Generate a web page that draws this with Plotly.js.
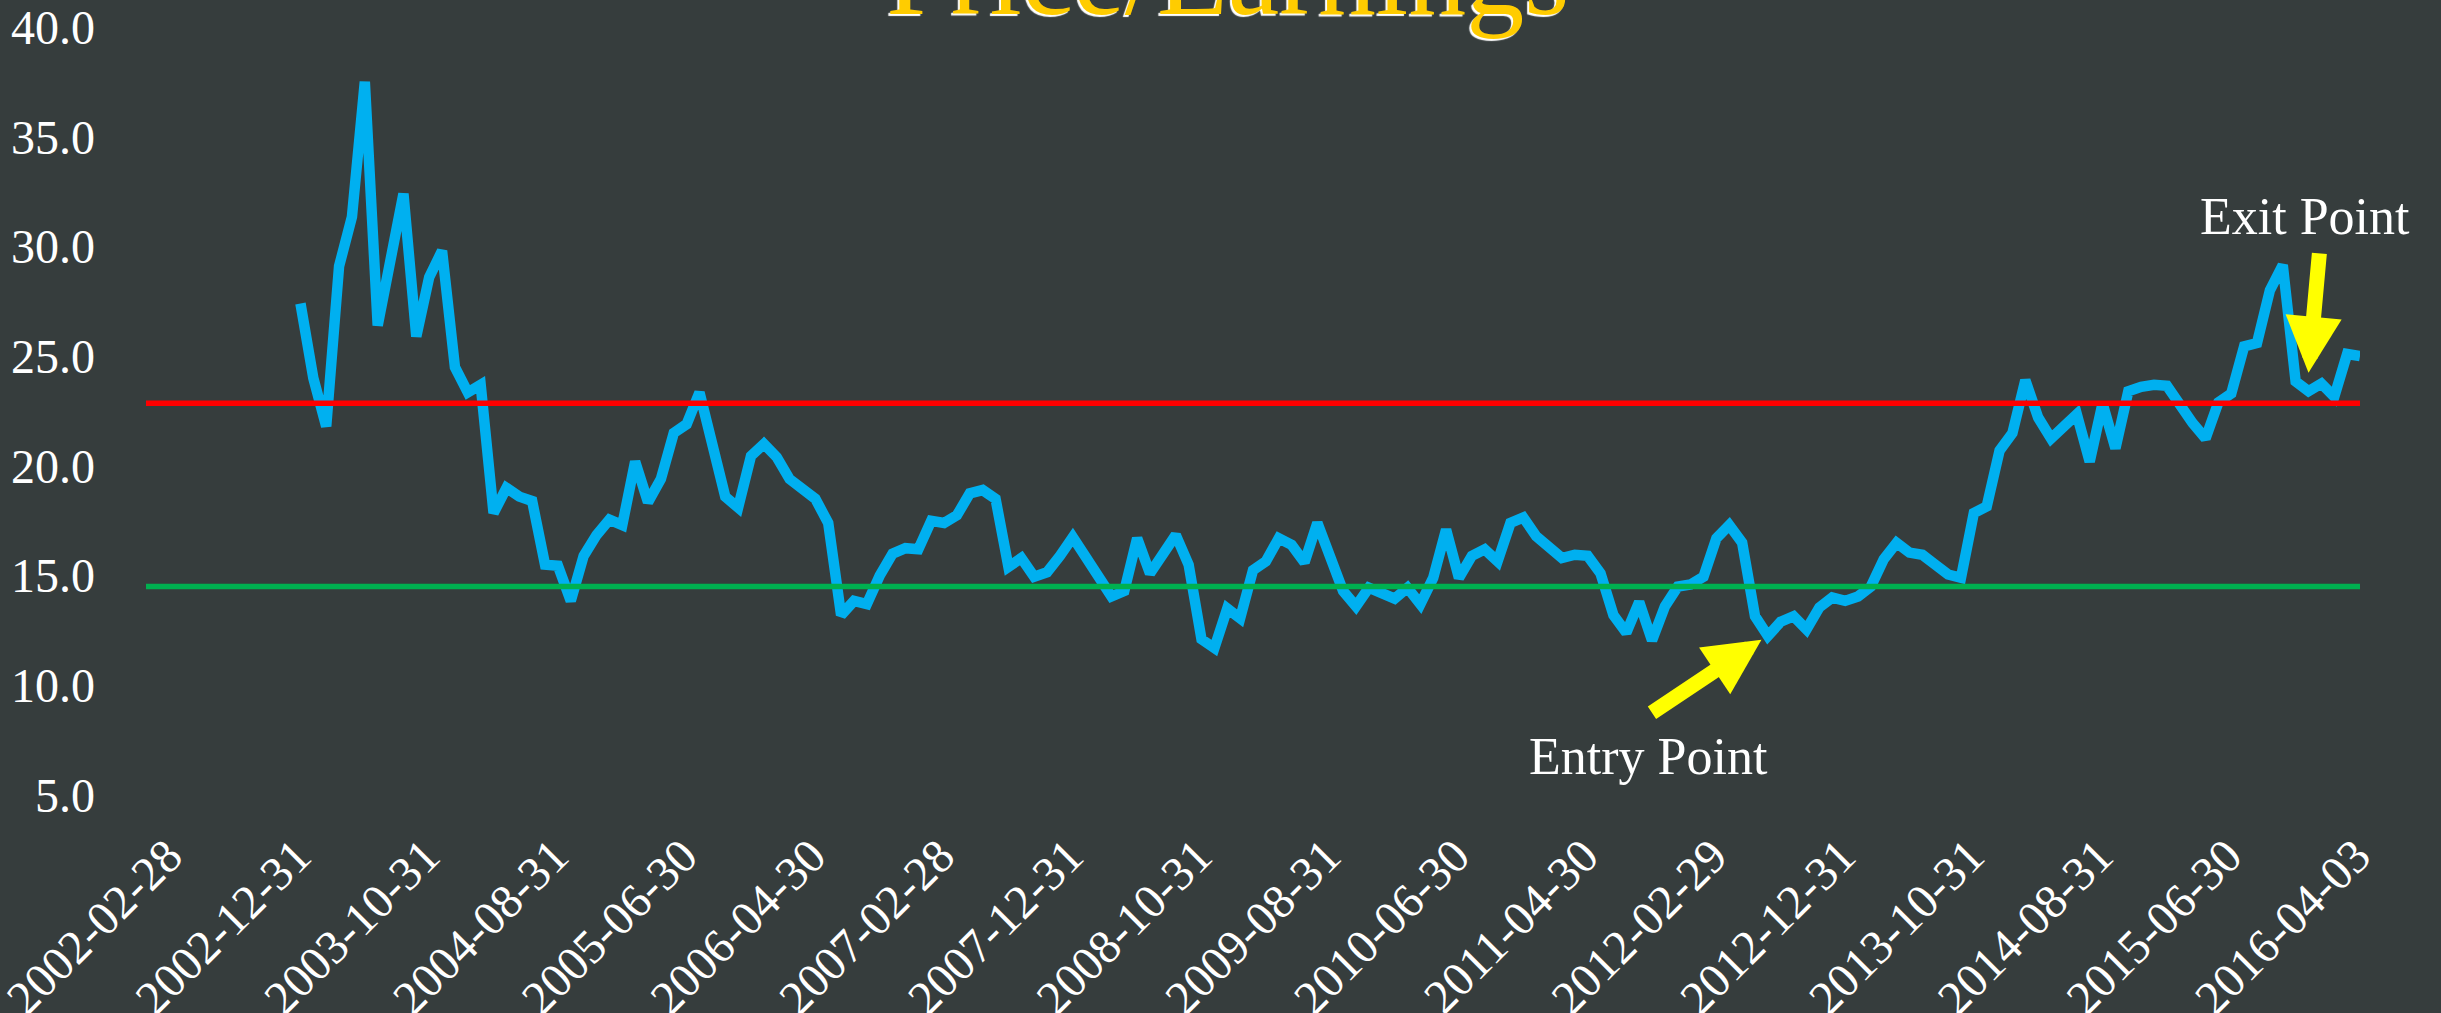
<!DOCTYPE html>
<html>
<head>
<meta charset="utf-8">
<script src="https://cdn.plot.ly/plotly-3.0.1.min.js"></script>
<style>
  html, body { margin: 0; padding: 0; background: #363D3D; }
  #chart { width: 2441px; height: 1013px; }
</style>
</head>
<body>
<div id="chart"></div>
<script>
// ---- categories: month-end dates 2002-02 .. 2016-03, then the latest readings ----
function monthEnds(startYear, startMonth, endYear, endMonth) {
  const out = [];
  let y = startYear, m = startMonth;
  while (y < endYear || (y === endYear && m <= endMonth)) {
    const last = new Date(Date.UTC(y, m, 0)).getUTCDate();
    out.push(y + '-' + String(m).padStart(2, '0') + '-' + String(last).padStart(2, '0'));
    m++; if (m > 12) { m = 1; y++; }
  }
  return out;
}
const latestDates = ['2016-04-03', '2016-04-10', '2016-04-17'];
const dates = monthEnds(2002, 2, 2016, 3).concat(latestDates);

// ---- Price/Earnings ratio (null where no data) ----
const peRatio = [
  null, null, null, null, null, null, null, null, null, null, null, null,
  27.4, 24.0, 21.8, 29.1, 31.35, 37.5, 26.4, 29.5, 32.4, 25.9,
  28.6, 29.8, 24.5, 23.35, 23.7, 17.85, 19.0, 18.6, 18.4, 15.5,
  15.45, 13.85, 15.9, 16.85, 17.55, 17.3, 20.2, 18.35, 19.4, 21.5,
  21.9, 23.35, 20.7, 18.6, 18.1, 20.45, 21.0, 20.4, 19.4, 19.0,
  18.5, 17.4, 13.2, 13.85, 13.7, 15.0, 16.0, 16.25, 16.2, 17.5,
  17.4, 17.75, 18.75, 18.9, 18.5, 15.4, 15.8, 14.95, 15.15, 15.9,
  16.75, 15.85, 14.9, 14.05, 14.3, 16.7, 15.1, 16.0, 16.85, 15.5,
  12.1, 11.7, 13.5, 13.05, 15.25, 15.65, 16.7, 16.4, 15.6, 17.4,
  15.8, 14.3, 13.6, 14.45, 14.2, 13.95, 14.45, 13.7, 14.9, 17.1,
  14.9, 15.9, 16.2, 15.65, 17.4, 17.65, 16.8, 16.25, 15.8, 15.95,
  15.9, 15.1, 13.2, 12.4, 13.8, 12.05, 13.6, 14.5, 14.6, 14.95,
  16.7, 17.3, 16.5, 13.15, 12.25, 12.9, 13.15, 12.55, 13.55, 14.0,
  13.85, 14.05, 14.5, 15.75, 16.5, 16.05, 15.95, 15.5, 15.05, 14.9,
  17.85, 18.15, 20.7, 21.5, 23.9, 22.2, 21.25, 21.8, 22.35, 20.2,
  22.85, 20.8, 23.4, 23.6, 23.7, 23.65, 22.7, 21.95, 21.25, 22.9,
  23.3, 25.45, 25.6, 28.0, 29.15, 23.85, 23.4, 23.75, 23.15, 25.1,
  25.0
];

// ---- reference bands ----
const upperBand = 22.86;
const lowerBand = 14.5;

// ---- annotation labels ----
const entryLabel = 'Entry Point';
const exitLabel = 'Exit Point';

const bg = '#363D3D';
const tickFont = { family: 'Liberation Serif, Times New Roman, serif', size: 48, color: '#FFFFFF' };
const noteFont = { family: 'Liberation Serif, Times New Roman, serif', size: 52, color: '#FFFFFF' };

const firstDate = dates[0];
const lastDate = dates[dates.length - 1];

const traces = [
  {
    type: 'scatter', mode: 'lines', x: dates, y: peRatio,
    line: { color: '#00B0F0', width: 10.5, shape: 'linear' },
    connectgaps: false, hoverinfo: 'skip', showlegend: false
  },
  {
    type: 'scatter', mode: 'lines', x: [firstDate, lastDate], y: [upperBand, upperBand],
    line: { color: '#FF0000', width: 5.5 }, hoverinfo: 'skip', showlegend: false
  },
  {
    type: 'scatter', mode: 'lines', x: [firstDate, lastDate], y: [lowerBand, lowerBand],
    line: { color: '#00B050', width: 5.5 }, hoverinfo: 'skip', showlegend: false
  }
];

const layout = {
  width: 2441, height: 1013,
  paper_bgcolor: bg, plot_bgcolor: bg,
  margin: { l: 146, r: 81, t: 27, b: 185, pad: 0 },
  showlegend: false,
  title: {
    text: 'Price/Earnings',
    font: { family: 'Liberation Serif, Times New Roman, serif', size: 116, color: '#FFCC00', shadow: '-2px 2px 1px #ffffff' },
    x: 0.503, xanchor: 'center', xref: 'container',
    y: 0.986, yanchor: 'bottom', yref: 'container'
  },
  xaxis: {
    type: 'category', range: [0, dates.length - 1],
    tickmode: 'linear', tick0: 0, dtick: 10,
    tickangle: -45, tickfont: tickFont,
    ticklabelshift: 22, ticklabelstandoff: -11,
    showgrid: false, zeroline: false, showline: false, ticks: ''
  },
  yaxis: {
    range: [3.5, 40], tickmode: 'linear', tick0: 0, dtick: 5, tickformat: '.1f',
    tickfont: tickFont, ticklabelstandoff: 50,
    showgrid: false, zeroline: false, showline: false, ticks: ''
  },
  annotations: [
    { x: 116.7, y: 6.77, xref: 'x', yref: 'y', text: entryLabel, showarrow: false,
      font: noteFont, xanchor: 'center', yanchor: 'middle' },
    { x: 125.5, y: 12.08, xref: 'x', yref: 'y', text: '', showarrow: true,
      ax: -111, ay: 74, arrowcolor: '#FFFF00', arrowwidth: 15, arrowhead: 2, arrowsize: 0.75, standoff: 0 },
    { x: 167.7, y: 31.35, xref: 'x', yref: 'y', text: exitLabel, showarrow: false,
      font: noteFont, xanchor: 'center', yanchor: 'middle' },
    { x: 168, y: 24.24, xref: 'x', yref: 'y', text: '', showarrow: true,
      ax: 11, ay: -121, arrowcolor: '#FFFF00', arrowwidth: 15, arrowhead: 2, arrowsize: 0.75, standoff: 0 }
  ]
};

Plotly.newPlot('chart', traces, layout, { staticPlot: true, displayModeBar: false });
</script>
</body>
</html>
